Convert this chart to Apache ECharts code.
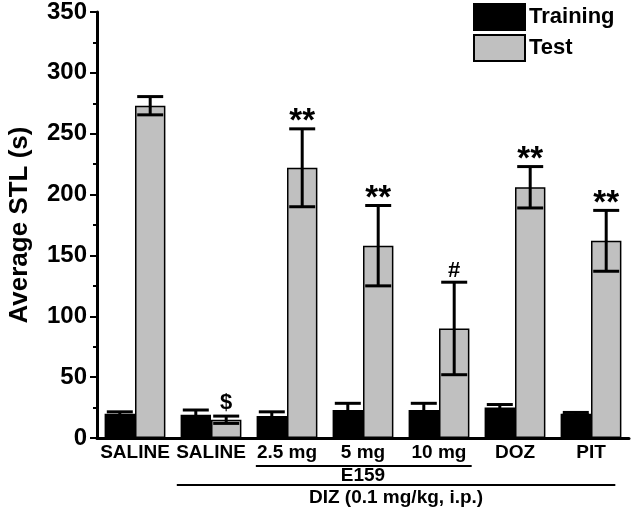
<!DOCTYPE html>
<html>
<head>
<meta charset="utf-8">
<script src="https://cdn.jsdelivr.net/npm/echarts@6/dist/echarts.min.js"></script>
<style>
html,body{margin:0;padding:0;background:#fff;}
#chart{width:633px;height:511px;}
</style>
</head>
<body>
<div id="chart"></div>
<script>
const categories = ['SALINE', 'SALINE', '2.5 mg', '5 mg', '10 mg', 'DOZ', 'PIT'];
const trainingMean = [20, 19, 18, 23, 23, 25, 20];
const trainingErr = [1.5, 4, 3.5, 5.5, 5.5, 2.5, 1];
const testMean = [273, 15, 222, 158, 90, 206, 162];
const testErr = [7.5, 3, 32, 33, 38, 17, 25];
const testMarks = ['', '$', '**', '**', '#', '**', '**'];
const yTicks = [0, 50, 100, 150, 200, 250, 300, 350];
const subLabel = 'E159';
const groupLabel = 'DIZ (0.1 mg/kg, i.p.)';

const FONT = '"Liberation Sans", Arial, sans-serif';
const BAR_FRAC = 0.4;

const chart = echarts.init(document.getElementById('chart'), null, {renderer: 'canvas'});

function errData(means, errs, side) {
  return means.map((m, i) => [i, m, errs[i], side]);
}

function renderErr(params, api) {
  const i = api.value(0);
  const m = api.value(1);
  const e = api.value(2);
  const side = api.value(3);
  const mark = params.seriesName === 'TestErr' ? testMarks[i] : '';
  const band = api.size([1, 0])[0];
  const c = api.coord([i, m]);
  const x = c[0] + side * band * BAR_FRAC / 2;
  const yTop = api.coord([i, m + e])[1];
  const yBot = api.coord([i, Math.max(0, m - e)])[1];
  const cap = 13;
  const ls = {stroke: '#000', lineWidth: 3};
  const children = [
    {type: 'line', shape: {x1: x, y1: yTop, x2: x, y2: yBot}, style: ls},
    {type: 'line', shape: {x1: x - cap, y1: yTop, x2: x + cap, y2: yTop}, style: ls},
    {type: 'line', shape: {x1: x - cap, y1: yBot, x2: x + cap, y2: yBot}, style: ls}
  ];
  if (mark) {
    const isStar = mark === '**';
    children.push({
      type: 'text',
      x: x,
      y: yTop + (isStar ? 10 : (mark === '#' ? 0 : -2)),
      style: {
        text: mark,
        fontSize: isStar ? 33 : 22,
        fontWeight: 'bold',
        fontFamily: FONT,
        fill: '#000',
        align: 'center',
        verticalAlign: 'bottom'
      }
    });
  }
  return {type: 'group', children: children};
}

chart.setOption({
  animation: false,
  backgroundColor: '#fff',
  grid: {left: 97, right: 4, top: 12, bottom: 73, containLabel: false, outerBoundsMode: 'none'},
  legend: {
    orient: 'vertical',
    left: 473,
    top: 3,
    padding: 0,
    itemWidth: 51,
    itemHeight: 26,
    itemGap: 3,
    icon: 'rect',
    data: ['Training', 'Test'],
    textStyle: {fontSize: 22, fontWeight: 'bold', fontFamily: FONT, color: '#000', padding: [0, 0, 0, -1]}
  },
  xAxis: {
    type: 'category',
    data: categories,
    axisLine: {lineStyle: {color: '#000', width: 3}},
    axisTick: {show: false},
    axisLabel: {fontSize: 19, fontWeight: 'bold', fontFamily: FONT, color: '#000', margin: 5, interval: 0},
    splitLine: {show: false}
  },
  yAxis: {
    type: 'value',
    min: yTicks[0],
    max: yTicks[yTicks.length - 1],
    interval: 50,
    name: 'Average STL (s)',
    nameLocation: 'middle',
    nameRotate: 90,
    nameGap: 64,
    nameTextStyle: {fontSize: 26, fontWeight: 'bold', fontFamily: FONT, color: '#000'},
    axisLine: {show: true, lineStyle: {color: '#000', width: 3}},
    axisTick: {show: true, inside: false, length: 7, lineStyle: {color: '#000', width: 2}},
    minorTick: {show: true, splitNumber: 2, length: 4, lineStyle: {color: '#000', width: 2}},
    axisLabel: {fontSize: 24, fontWeight: 'bold', fontFamily: FONT, color: '#000', margin: 10},
    splitLine: {show: false}
  },
  series: [
    {
      name: 'Training',
      type: 'bar',
      data: trainingMean,
      barWidth: (BAR_FRAC * 100) + '%',
      barGap: '0%',
      itemStyle: {color: '#000', borderColor: '#000', borderWidth: 1.5}
    },
    {
      name: 'Test',
      type: 'bar',
      data: testMean,
      barWidth: (BAR_FRAC * 100) + '%',
      barGap: '0%',
      itemStyle: {color: '#c0c0c0', borderColor: '#000', borderWidth: 1.5}
    },
    {
      name: 'TrainingErr',
      type: 'custom',
      renderItem: renderErr,
      data: errData(trainingMean, trainingErr, -1),
      z: 5
    },
    {
      name: 'TestErr',
      type: 'custom',
      renderItem: renderErr,
      data: errData(testMean, testErr, 1),
      z: 5
    }
  ]
});

function px(i) { return chart.convertToPixel({xAxisIndex: 0}, i); }
const band = px(1) - px(0);
const lineStyle = {stroke: '#000', lineWidth: 2};
const txt = {fontSize: 19, fontWeight: 'bold', fontFamily: FONT, fill: '#000', align: 'center', verticalAlign: 'middle'};
chart.setOption({
  graphic: [
    {type: 'line', shape: {x1: px(2) - band * 0.41, y1: 466, x2: px(4) + band * 0.43, y2: 466}, style: lineStyle},
    {type: 'text', x: px(3), y: 476, style: Object.assign({text: subLabel}, txt)},
    {type: 'line', shape: {x1: px(1) - band * 0.45, y1: 485, x2: px(6) + band * 0.32, y2: 485}, style: lineStyle},
    {type: 'text', x: (px(1) - band * 0.45 + px(6) + band * 0.32) / 2, y: 498, style: Object.assign({text: groupLabel}, txt)}
  ]
});
</script>
</body>
</html>
